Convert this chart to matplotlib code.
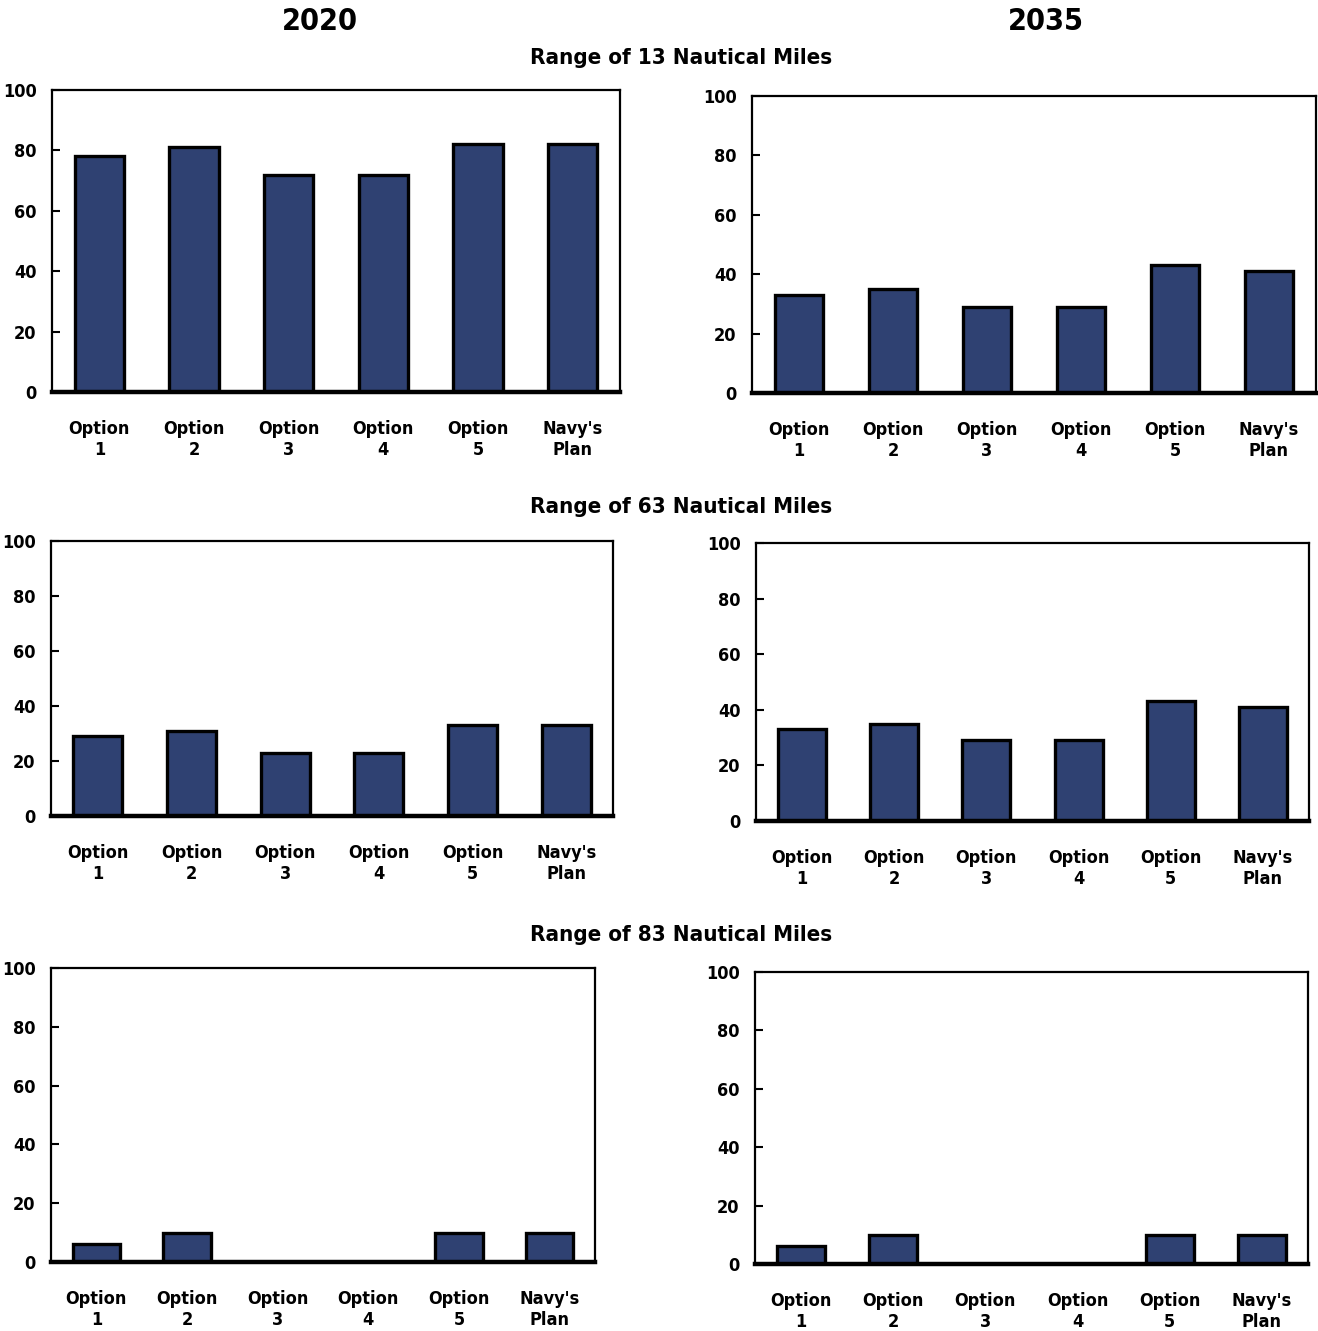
import matplotlib
matplotlib.use("Agg")
import matplotlib.pyplot as plt

# Données
categories = ["Option\n1", "Option\n2", "Option\n3", "Option\n4", "Option\n5", "Navy's\nPlan"]
annees = ["2020", "2035"]
portees = ["Range of 13 Nautical Miles", "Range of 63 Nautical Miles", "Range of 83 Nautical Miles"]

val_13_2020 = [78, 81, 72, 72, 82, 82]
val_13_2035 = [33, 35, 29, 29, 43, 41]
val_63_2020 = [29, 31, 23, 23, 33, 33]
val_63_2035 = [33, 35, 29, 29, 43, 41]
val_83_2020 = [6, 10, 0, 0, 10, 10]
val_83_2035 = [6, 10, 0, 0, 10, 10]

valeurs = [[val_13_2020, val_13_2035],
           [val_63_2020, val_63_2035],
           [val_83_2020, val_83_2035]]

W, H = 1318, 1331
plt.rcParams["font.family"] = "DejaVu Sans"
plt.rcParams["font.stretch"] = "condensed"
plt.rcParams["font.weight"] = "bold"

fig = plt.figure(figsize=(W / 100, H / 100), dpi=100)

# Cadres des axes en pixels (gauche, droite, haut, bas)
cadres = [[(52, 620, 90, 392), (752, 1316, 96, 393)],
          [(51, 613, 541, 816), (756, 1309, 543, 821)],
          [(51, 595, 968, 1262), (755, 1308, 972, 1264)]]

couleur = "#2f4172"
for r in range(3):
    for c in range(2):
        g, d, h, b = cadres[r][c]
        ax = fig.add_axes([g / W, 1 - b / H, (d - g) / W, (b - h) / H])
        x = range(len(categories))
        ax.bar(x, valeurs[r][c], width=0.52, color=couleur, edgecolor="black", linewidth=2.4, zorder=2)
        ax.set_xlim(-0.5, 5.5)
        ax.set_ylim(0, 100)
        ax.set_yticks([0, 20, 40, 60, 80, 100])
        ax.set_xticks(list(x))
        ax.set_xticklabels(categories, fontsize=13, fontweight="bold", linespacing=1.25)
        ax.tick_params(axis="x", length=0, pad=20)
        ax.tick_params(axis="y", direction="in", length=6, width=1.5, pad=11, labelsize=13)
        for lab in ax.get_yticklabels():
            lab.set_fontweight("bold")
        for s in ["left", "top", "right"]:
            ax.spines[s].set_linewidth(1.6)
        ax.spines["bottom"].set_linewidth(3.2)
        ax.spines["bottom"].set_zorder(3)

# Titres
fig.text(320 / W, 1 - 21 / H, annees[0], ha="center", va="center", fontsize=22, fontweight="bold")
fig.text(1046 / W, 1 - 21 / H, annees[1], ha="center", va="center", fontsize=22, fontweight="bold")
for y, t in zip([58, 507, 935], portees):
    fig.text(681 / W, 1 - y / H, t, ha="center", va="center", fontsize=16, fontweight="bold")

fig.savefig("out.png", dpi=100)
